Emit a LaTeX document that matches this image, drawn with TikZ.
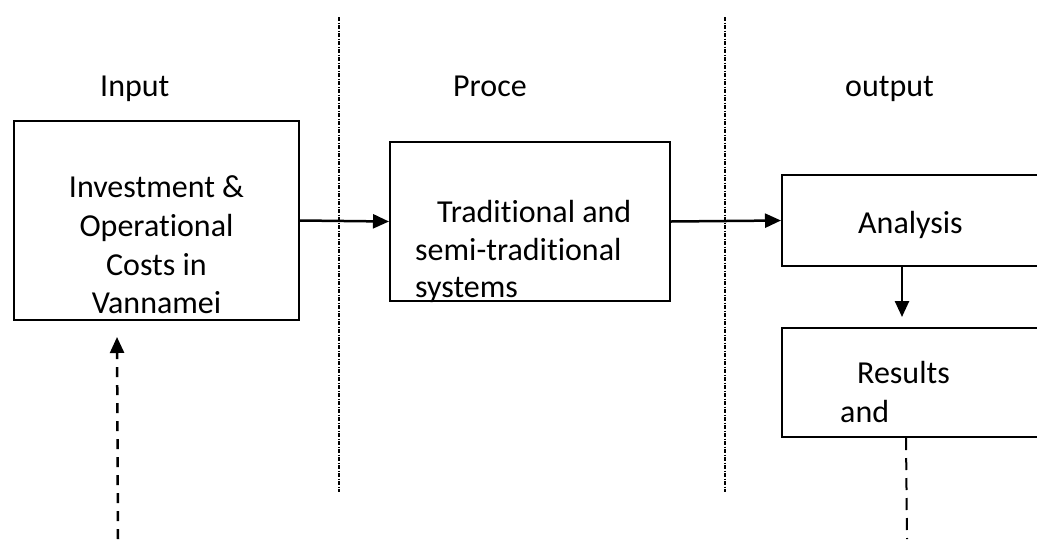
\documentclass[tikz,border=0pt]{standalone}
\usepackage{fontspec}
\setmainfont{Carlito}[Ligatures={NoCommon}]
\usetikzlibrary{arrows.meta,calc}
\tikzset{
  box/.style={draw, line width=2pt, rectangle, inner sep=0pt},
  txt/.style={font=\fontsize{32}{39}\selectfont, inner sep=0pt, anchor=base west},
  ctxt/.style={font=\fontsize{32}{39}\selectfont, inner sep=0pt, anchor=base},
  arr/.style={line width=2.5pt, -{Triangle[length=16pt,width=14pt]}},
  darr/.style={line width=2.5pt, dash pattern=on 10pt off 8pt, -{Triangle[length=16pt,width=14pt]}},
  dline/.style={line width=2pt, dash pattern=on 12pt off 8pt},
  sep/.style={line width=1.5pt, dash pattern=on 4pt off 1.5pt on 1pt off 1.5pt}
}
\begin{document}
\begin{tikzpicture}[x=1pt,y=-1pt]
\clip (0,0) rectangle (1037,539);
\fill[white] (0,0) rectangle (1037,539);
% separators
\draw[sep] (339,17) -- (339,492);
\draw[sep] (725,17) -- (725,492);
% headings
\node[txt] (hin) at (100,96) {Input};
\node[txt] (hpr) at (453,96) {Proce};
\node[txt] (hout) at (845,96) {output};
% boxes
\node[box, minimum width=285pt, minimum height=199pt] (b1) at (156.5,220.5) {};
\node[box, minimum width=280pt, minimum height=159pt] (b2) at (530,221.5) {};
\node[box, minimum width=263pt, minimum height=91pt] (b3) at (913.5,220.5) {};
\node[box, minimum width=263pt, minimum height=109pt] (b4) at (913.5,382.5) {};
% box texts
\node[ctxt] (t1a) at (156.5,197) {Investment \&};
\node[ctxt] (t1b) at (156.5,236) {Operational};
\node[ctxt] (t1c) at (156.5,275) {Costs in};
\node[ctxt] (t1d) at (156.5,313) {Vannamei};
\begin{scope}
\clip (b2.south west) rectangle (b2.north east);
\node[txt] (t2a) at (437,222) {Traditional and};
\node[txt] (t2b) at (415,260) {semi-traditional};
\node[txt] (t2c) at (415,297) {systems};
\end{scope}
\node[txt] (t3) at (858,233) {Analysis};
\node[txt] (t4a) at (857,383) {Results};
\node[txt] (t4b) at (840,422) {and};
% connectors
\draw[arr] (b1.east) -- (b2.west);
\draw[arr] (b2.east) -- (b3.west);
\draw[arr] ($(b3.south west)+(121,0)$) -- ($(b4.north west)+(121,-10)$);
\coordinate (dend) at (907,539);
\draw[dline] ($(b4.south west)+(125,0)$) -- (dend);
\coordinate (dstart) at (118,539);
\draw[darr] (dstart) -- ($(b1.south west)+(104,16)$);
\end{tikzpicture}
\end{document}
